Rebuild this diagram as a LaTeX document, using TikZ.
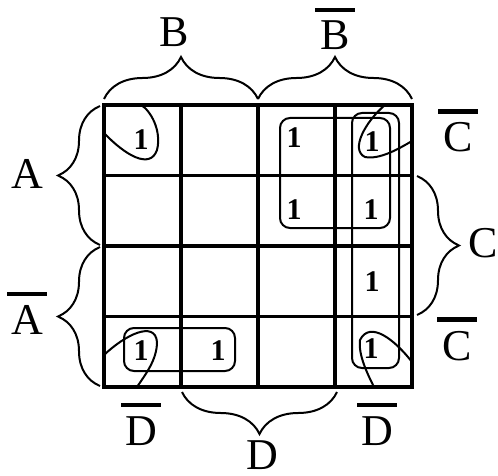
\documentclass[tikz,border=0pt]{standalone}
\usepackage{fontspec}
\setmainfont{Liberation Serif}
\usepackage{tikz}
\usetikzlibrary{decorations.pathreplacing}

% letter with a bar over it
\newcommand{\nbar}[1]{\setbox0=\hbox{#1}\rlap{\hbox to \wd0{\hss\raisebox{\dimexpr\ht0+4.5pt\relax}{\rule{20pt}{2.2pt}}\hss}}\box0}

\begin{document}
\begin{tikzpicture}[
    x=0.5pt, y=-0.5pt,
    grid/.style={line width=1.8pt, line cap=rect},
    loop/.style={line width=1pt},
    group/.style={line width=1pt, rounded corners=5pt},
    brc/.style={decorate, decoration={brace, amplitude=21pt}, line width=1pt},
    var/.style={font=\fontsize{22}{24}\selectfont, anchor=base, inner sep=0pt},
    one/.style={font=\fontsize{15}{16}\selectfont\bfseries, inner sep=0pt}
]
    \useasboundingbox (0,0) rectangle (498,476);

    % Grid
    \foreach \i in {0,...,4} {
        \draw[grid] (104+77*\i,105) -- (104+77*\i,387);
        \draw[grid] (104,105+70.5*\i) -- (412,105+70.5*\i);
    }

    % Cells
    \foreach \r/\c/\x/\y in {0/0/141/140, 0/2/294/138, 0/3/372/142, 1/2/294/210, 1/3/371/210,
                             2/3/372/282, 3/0/141/351, 3/1/218/351, 3/3/371/349}
        \node[one] (c\r\c) at (\x,\y) {1};

    % Groups
    \draw[group] (280,118) rectangle (390,228);
    \draw[group] (352,113) rectangle (399,368);
    \draw[group] (124,328) rectangle (235,371);

    % Corner loops
    \draw[loop] (104,133) .. controls (125,155) and (150,170) .. (157,150)
                          .. controls (162,130) and (150,110) .. (141,105);
    \draw[loop] (385,105) .. controls (365,122) and (350,150) .. (365,157)
                          .. controls (380,160) and (400,148) .. (412,141);
    \draw[loop] (104,355) .. controls (125,335) and (155,320) .. (157,342)
                          .. controls (157,360) and (145,375) .. (137,387);
    \draw[loop] (412,362) .. controls (395,340) and (370,320) .. (360,340)
                          .. controls (358,355) and (368,375) .. (374,387);

    % Braces
    \draw[brc] (104,99) -- (258,99);
    \draw[brc] (258,99) -- (412,99);
    \draw[brc] (100,245) -- (100,106);
    \draw[brc] (100,386) -- (100,247);
    \draw[brc] (417,176) -- (417,315);
    \draw[brc] (337,392) -- (182,392);

    % Labels
    \node[var] (labB) at (174,47) {B};
    \node[var] (labnB) at (335,50) {\nbar{B}};
    \node[var] (labA) at (27,188) {A};
    \node[var] (labnA) at (27,334) {\nbar{A}};
    \node[var] (labnC1) at (458,152) {\nbar{C}};
    \node[var] (labC) at (483,257) {C};
    \node[var] (labnC2) at (457,360) {\nbar{C}};
    \node[var] (labnD1) at (141,445) {\nbar{D}};
    \node[var] (labD) at (262,469) {D};
    \node[var] (labnD2) at (377,445) {\nbar{D}};
\end{tikzpicture}
\end{document}
